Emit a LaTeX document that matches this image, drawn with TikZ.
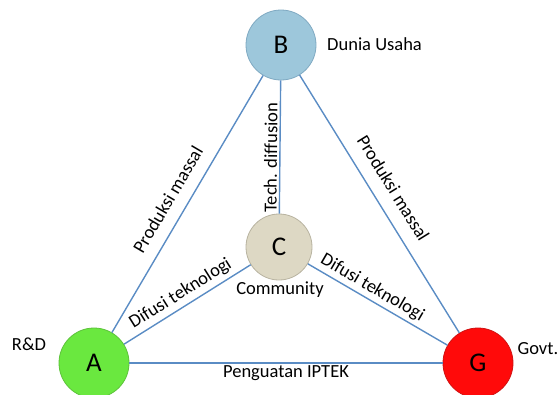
\documentclass[tikz,border=0pt]{standalone}
\usepackage{fontspec}
\setmainfont{Carlito}
\definecolor{linec}{HTML}{5A8CC4}
\definecolor{bfill}{HTML}{9DC7DB}
\definecolor{bdraw}{HTML}{7FA9C2}
\definecolor{afill}{HTML}{6AE83F}
\definecolor{adraw}{HTML}{5CC23A}
\definecolor{gfill}{HTML}{FF0A0A}
\definecolor{gdraw}{HTML}{D01010}
\definecolor{cfill}{HTML}{DDD8C4}
\definecolor{cdraw}{HTML}{B8B3A0}
\tikzset{
  actor/.style={circle, minimum size=70pt, inner sep=0pt, line width=0.8pt,
    font=\fontsize{27}{27}\selectfont},
  conn/.style={draw=linec, line width=1.4pt},
  lbl/.style={font=\fontsize{18.5}{19}\selectfont, text=black},
  elbl/.style={font=\fontsize{18.5}{19}\selectfont, text=black, sloped, inner sep=2pt},
}
\begin{document}
\begin{tikzpicture}[x=1pt,y=-1pt]
\useasboundingbox (0,0) rectangle (559,394);
\node[actor, fill=bfill, draw=bdraw] (B) at (281,45) {B};
\node[actor, fill=afill, draw=adraw] (A) at (94,363) {A};
\node[actor, fill=gfill, draw=gdraw] (G) at (478,363) {G};
\node[actor, fill=cfill, draw=cdraw, minimum size=66pt] (C) at (279,247) {C};
\node[lbl, anchor=west, inner sep=0pt] (du) at (327,44) {Dunia Usaha};
\node[lbl, inner sep=0pt] (rd) at (29,344) {R\&D};
\node[lbl, anchor=east, inner sep=0pt] (gv) at (558.5,349) {Govt.};
\node[lbl, inner sep=0pt] (cm) at (280,290) {Community};
\draw[conn] (A) -- node[elbl, pos=0.48, above=10pt] {Produksi massal} (B);
\draw[conn] (B) -- node[elbl, pos=0.48, above=11pt] {Produksi massal} (G);
\draw[conn] (A) -- node[elbl, pos=0.50, above=2pt] {Difusi teknologi} (C);
\draw[conn] (C) -- node[elbl, pos=0.42, above=1pt] {Difusi teknologi} (G);
\draw[conn] (C) -- node[elbl, pos=0.42, above=0pt] {Tech. diffusion} (B);
\draw[conn] (A) -- node[elbl, pos=0.50, below=0pt] {Penguatan IPTEK} (G);
\end{tikzpicture}
\end{document}
